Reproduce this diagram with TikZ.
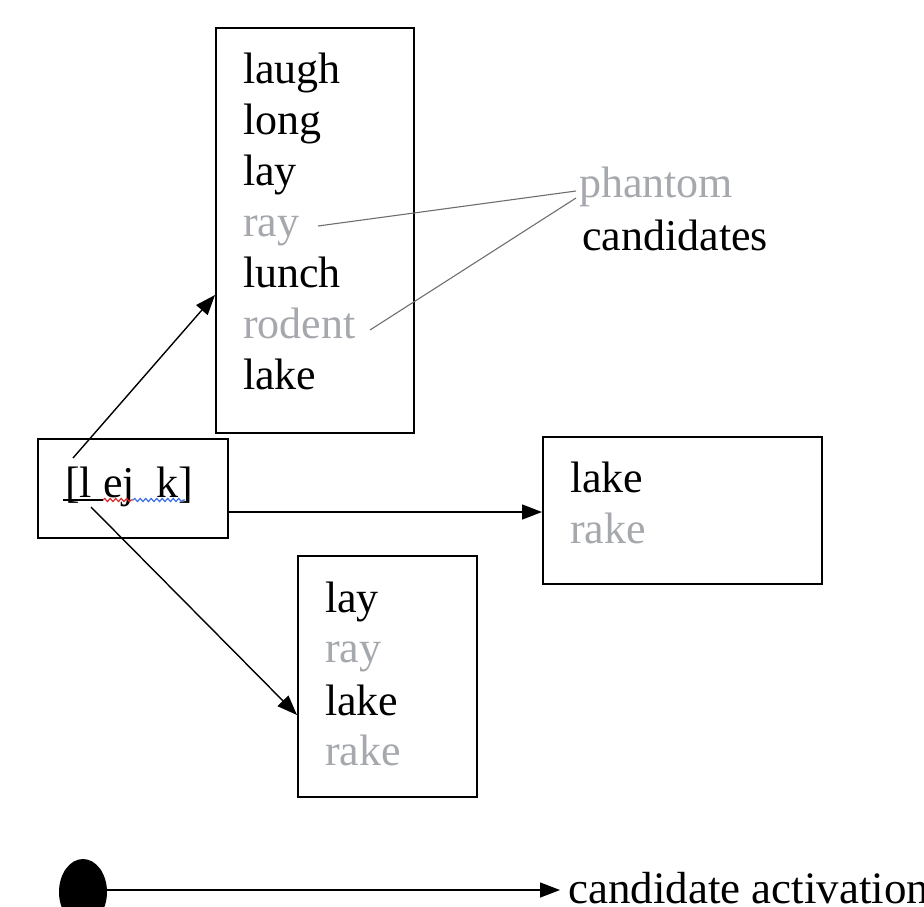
\documentclass[tikz,border=0pt]{standalone}
\usepackage{fontspec}
\setmainfont{Liberation Serif}
\usetikzlibrary{arrows.meta,decorations.pathmorphing,shapes.geometric}
\definecolor{phgray}{RGB}{165,168,172}
\definecolor{lngray}{RGB}{110,110,110}
\definecolor{spellred}{RGB}{220,40,40}
\definecolor{spellblue}{RGB}{60,110,230}
\tikzset{
  box/.style={draw=black, line width=1.7pt, anchor=north west, inner sep=0pt},
  word/.style={anchor=base west, inner sep=0pt, font=\fontsize{44}{51}\selectfont},
  phword/.style={word, text=phgray},
  arr/.style={line width=1.4pt, -{Triangle[length=20pt,width=15pt]}},
  glead/.style={draw=lngray, line width=1.1pt},
  spell/.style={line width=1.2pt, decorate, decoration={snake, amplitude=1.5pt, segment length=5.5pt}},
}
\begin{document}
\begin{tikzpicture}[x=1pt,y=-1pt]
\useasboundingbox (0,0) rectangle (924,906);
% boxes
\node[box, minimum width=198pt, minimum height=405pt] (topbox) at (215,27) {};
\node[box, minimum width=190pt, minimum height=99pt] (src) at (37,438) {};
\node[box, minimum width=279pt, minimum height=147pt] (rightbox) at (542,436) {};
\node[box, minimum width=179pt, minimum height=241pt] (botbox) at (297,555) {};
% top box words
\node[word] (w1) at (243,83) {laugh};
\node[word] (w2) at (243,134) {long};
\node[word] (w3) at (243,185) {lay};
\node[phword] (w4) at (243,236) {ray};
\node[word] (w5) at (243,287) {lunch};
\node[phword] (w6) at (243,338) {rodent};
\node[word] (w7) at (243,389) {lake};
% phantom label
\node[phword] (ph) at (579,197) {phantom};
\node[word] (cand) at (582,250) {candidates};
\coordinate (phA) at (576,191);
\coordinate (phB) at (576,198);
\coordinate (rayE) at (318,226);
\coordinate (rodE) at (370,330);
\draw[glead] (rayE) -- (phA);
\draw[glead] (rodE) -- (phB);
% source
\node[word] (ipa) at (65,497) {[l\hspace{11pt}ej\hspace{22pt}k]};
\draw[line width=1.3pt] (63,500) -- (103,500);
\draw[spell, spellred] (103,500) -- (133,500);
\draw[spell, spellblue] (133,500) -- (185,500);
% right box words
\node[word] (r1) at (570,492) {lake};
\node[phword] (r2) at (570,543) {rake};
% bottom box words
\node[word] (b1) at (325,612) {lay};
\node[phword] (b2) at (325,662) {ray};
\node[word] (b3) at (325,715) {lake};
\node[phword] (b4) at (325,765) {rake};
% arrows
\coordinate (s1) at (73,458);
\coordinate (s2) at (91,507);
\draw[arr] (s1) -- (topbox.west |- 0,295);
\draw[arr] (s2) -- (botbox.west |- 0,715);
\draw[arr] (src.east |- 0,512) -- (rightbox.west |- 0,512);
% legend
\node[fill=black, ellipse, minimum width=48pt, minimum height=66pt, inner sep=0pt] (dot) at (83,892) {};
\node[word, font=\fontsize{45}{51}\selectfont] (leg) at (568,903) {candidate activation};
\coordinate (legtip) at (560,890);
\draw[arr] (dot.east |- legtip) -- (legtip);
\end{tikzpicture}
\end{document}
